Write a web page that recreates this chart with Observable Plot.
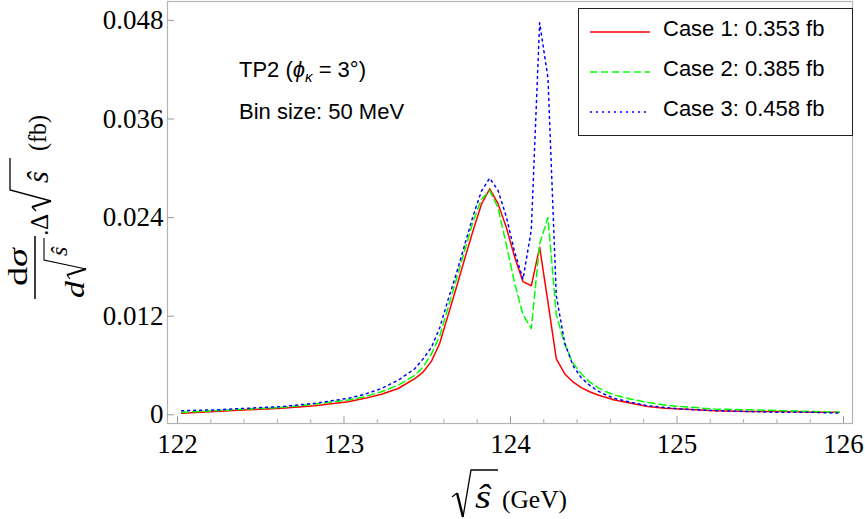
<!DOCTYPE html>
<html><head><meta charset="utf-8">
<script src="https://cdn.jsdelivr.net/npm/d3@7"></script>
<script src="https://cdn.jsdelivr.net/npm/@observablehq/plot@0.6"></script>
<style>
body{margin:0;background:#fff}
#wrap{position:relative;width:865px;height:519px;overflow:hidden;background:#fff}
.sans{font-family:"Liberation Sans",Arial,sans-serif;font-size:22px;position:absolute;white-space:nowrap;line-height:22px;color:#000}
#titles{position:absolute;left:0;top:0;pointer-events:none;font-family:"Liberation Serif","Times New Roman",serif}
</style></head><body><div id="wrap"></div>
<script>
// ---- data ----
const energy = [122.025,122.225,122.425,122.625,122.825,123.025,123.125,123.225,123.325,123.425,123.475,123.525,123.575,123.625,123.675,123.725,123.775,123.825,123.875,123.925,123.975,124.025,124.075,124.125,124.175,124.225,124.275,124.325,124.375,124.425,124.475,124.525,124.575,124.625,124.725,124.825,124.925,125.025,125.225,125.425,125.625,125.825,125.975];
const case1 = [0.0002,0.0004,0.0006,0.0008,0.0011,0.0016,0.0020,0.0025,0.0032,0.0044,0.0052,0.0065,0.0087,0.0121,0.0155,0.0190,0.0224,0.0256,0.0275,0.0257,0.0228,0.0192,0.0162,0.0157,0.0204,0.0137,0.0068,0.0050,0.0040,0.0033,0.0028,0.0024,0.0021,0.0018,0.0014,0.0010,0.0008,0.0007,0.0005,0.0004,0.0004,0.0003,0.0003];
const case2 = [0.0003,0.0005,0.0007,0.0009,0.0013,0.0018,0.0022,0.0028,0.0036,0.0048,0.0058,0.0074,0.0096,0.0130,0.0165,0.0200,0.0235,0.0262,0.0273,0.0252,0.0207,0.0160,0.0122,0.0105,0.0208,0.0240,0.0122,0.0086,0.0063,0.0050,0.0040,0.0033,0.0028,0.0024,0.0019,0.0015,0.0012,0.0010,0.0007,0.0006,0.0005,0.0004,0.0003];
const case3 = [0.0005,0.0006,0.0008,0.0010,0.0014,0.0020,0.0025,0.0032,0.0042,0.0056,0.0068,0.0082,0.0106,0.0140,0.0172,0.0207,0.0242,0.0272,0.0288,0.0273,0.0241,0.0198,0.0165,0.0225,0.0477,0.0410,0.0145,0.0088,0.0060,0.0045,0.0036,0.0029,0.0024,0.0020,0.0015,0.0011,0.0009,0.0007,0.0005,0.0004,0.0003,0.0003,0.0002];
const seriesNames = ["Case 1: 0.353 fb","Case 2: 0.385 fb","Case 3: 0.458 fb"];
const seriesColors = ["#ff0000","#00ff00","#0000ff"];
const seriesDash = [null,"7,4","2,4"];
const xTicks = [122,123,124,125,126];
const yTicks = [0,0.012,0.024,0.036,0.048];

const W = 865, H = 519;
const mL = 167, mR = 13, mT = 1, mB = 96;
const innerW = W - mL - mR, innerH = H - mT - mB;
const minorX = d3.range(0, 21).map(i => 122 + i*0.2).filter(v => Math.abs(v - Math.round(v)) > 1e-6);

const table = s => energy.map((x,i) => ({x, y: s[i]}));
const cases = [case1, case2, case3];

const chart = Plot.plot({
  width: W, height: H,
  marginLeft: mL, marginRight: mR, marginTop: mT, marginBottom: mB,
  x: {domain: [121.94, 126.054]},
  y: {domain: [-0.00106, 0.0503]},
  style: {fontFamily: '"Liberation Serif", serif', fontSize: "27px", background: "#fff", color: "#000"},
  marks: [
    Plot.frame({stroke: "#b4b4b4", strokeWidth: 1.2}),
    Plot.tickX(xTicks, {x: d => d, stroke: "#999", insetTop: innerH - 7}),
    Plot.tickX(minorX, {x: d => d, stroke: "#aaa", insetTop: innerH - 4}),
    Plot.tickY(yTicks, {y: d => d, stroke: "#999", insetRight: innerW - 7}),
    Plot.axisX(xTicks, {tickSize: 0, tickPadding: 10, label: null, tickFormat: d => String(d), fontSize: 27}),
    Plot.axisY(yTicks, {tickSize: 0, tickPadding: 4, label: null, tickFormat: d => d === 0 ? "0" : d.toFixed(3), fontSize: 27}),
    ...cases.map((s, i) => Plot.line(table(s), {x: "x", y: "y", stroke: seriesColors[i], strokeWidth: 1.5, strokeDasharray: seriesDash[i]}))
  ]
});
const wrap = document.getElementById("wrap");
wrap.appendChild(chart);

function add(html){ const t = document.createElement("div"); t.innerHTML = html; const el = t.firstElementChild; wrap.appendChild(el); return el; }

// annotations
add(`<div class="sans" style="left:239px;top:59px">TP2 (<i>ϕ</i><span style="font-size:15px;font-style:italic;position:relative;top:5px">κ</span> = 3°)</div>`);
add(`<div class="sans" style="left:239px;top:101px">Bin size: 50 MeV</div>`);

// legend
add(`<div style="position:absolute;left:578px;top:8px;width:275px;height:128px;box-sizing:border-box;border:1.5px solid #222;background:#fff"></div>`);
const rowBase = [37, 77, 117];
seriesNames.forEach((n, i) => {
  const yb = rowBase[i];
  add(`<svg style="position:absolute;left:588px;top:${yb-10}px" width="64" height="10"><line x1="2" x2="62" y1="5" y2="5" stroke="${seriesColors[i]}" stroke-width="1.4" ${seriesDash[i] ? `stroke-dasharray="${seriesDash[i]}"` : ""}/></svg>`);
  add(`<div class="sans" style="left:663px;top:${yb-18.6}px">${n}</div>`);
});

// axis titles (serif, with drawn radical signs)
add(`<svg id="titles" width="${W}" height="${H}">
  <g fill="none" stroke="#000" stroke-linejoin="miter">
    <path d="M452,497 L457,493" stroke-width="1.3"/>
    <path d="M457,493 L463,517" stroke-width="2.4"/>
    <path d="M463,517 L471,470 L498,470" stroke-width="1.3"/>
  </g>
  <text x="475" y="508" font-size="33" font-style="italic" textLength="16" lengthAdjust="spacingAndGlyphs">ŝ</text>
  <text x="502" y="508" font-size="26" textLength="65" lengthAdjust="spacingAndGlyphs">(GeV)</text>

  <g transform="translate(48,307) rotate(-90)">
    <text x="40" y="-21" font-size="28" text-anchor="middle" textLength="38" lengthAdjust="spacingAndGlyphs">d<tspan font-style="italic">σ</tspan></text>
    <line x1="8" x2="71" y1="-13" y2="-13" stroke="#000" stroke-width="1.5"/>
    <text x="9" y="36" font-size="27" font-style="italic" textLength="17" lengthAdjust="spacingAndGlyphs">d</text>
    <g fill="none" stroke="#000">
      <path d="M28,22 L32,19" stroke-width="1.1"/>
      <path d="M32,19 L38,38" stroke-width="2"/>
      <path d="M38,38 L47,-4 L69,-4" stroke-width="1.1"/>
    </g>
    <text x="51" y="19" font-size="24" font-style="italic">ŝ</text>
    <text x="71" y="0" font-size="26">.</text>
    <text x="77" y="0" font-size="25">Δ</text>
    <g fill="none" stroke="#000">
      <path d="M96,-12 L100,-16" stroke-width="1.3"/>
      <path d="M100,-16 L106,3" stroke-width="2.3"/>
      <path d="M106,3 L117,-38 L149,-38" stroke-width="1.3"/>
    </g>
    <text x="124" y="0" font-size="30" font-style="italic">ŝ</text>
    <text x="156" y="-2" font-size="26" textLength="36" lengthAdjust="spacingAndGlyphs">(fb)</text>
  </g>
</svg>`);
</script>
</body></html>
